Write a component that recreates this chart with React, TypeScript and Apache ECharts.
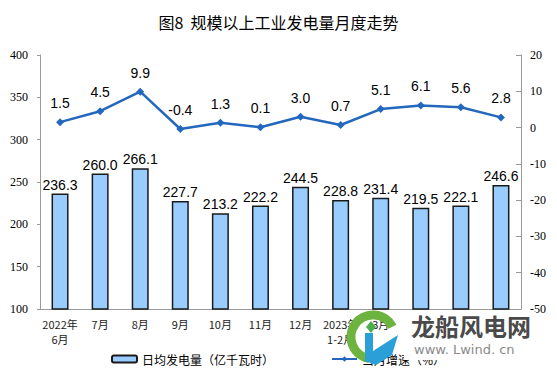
import React, { useEffect, useRef } from "react";
import * as echarts from "echarts";

const categories = ["2022年\n6月", "7月", "8月", "9月", "10月", "11月", "12月", "2023年\n1-2月", "3月", "4月", "5月", "6月"];
const dailyOutput = [236.3, 260.0, 266.1, 227.7, 213.2, 222.2, 244.5, 228.8, 231.4, 219.5, 222.1, 246.6];
const growthRate = [1.5, 4.5, 9.9, -0.4, 1.3, 0.1, 3.0, 0.7, 5.1, 6.1, 5.6, 2.8];
const barName = "日均发电量（亿千瓦时）";
const lineName = "当月增速（%）";
const titleText = "图8  规模以上工业发电量月度走势";

export default function App() {
  const ref = useRef<HTMLDivElement>(null);
  useEffect(() => {
    if (!ref.current) return;
    const chart = echarts.init(ref.current, undefined, { renderer: "svg" });
    const cjk = "'Noto Sans CJK SC', 'Liberation Sans', sans-serif";
    chart.setOption({
      animation: false,
      backgroundColor: "#ffffff",
      title: {
        text: titleText,
        left: "center",
        top: 9,
        textStyle: { fontSize: 16, fontWeight: "normal", color: "#000", fontFamily: cjk },
      },
      grid: { left: 40, right: 36, top: 55, bottom: 80 },
      legend: {
        left: 106,
        top: 348,
        itemGap: 57,
        itemWidth: 25,
        itemHeight: 7,
        textStyle: { fontSize: 12, color: "#000", fontFamily: cjk },
        data: [barName, lineName],
      },
      xAxis: {
        type: "category",
        data: categories,
        axisLine: { onZero: false, lineStyle: { color: "#9a9a9a" } },
        axisTick: { inside: true, length: 4, lineStyle: { color: "#9a9a9a" } },
        axisLabel: { fontSize: 11, color: "#222", fontFamily: cjk, margin: 7, lineHeight: 15, interval: 0 },
      },
      yAxis: [
        {
          type: "value",
          min: 100,
          max: 400,
          interval: 50,
          axisLine: { show: true, lineStyle: { color: "#9a9a9a" } },
          axisTick: { show: true, inside: false, length: 3, lineStyle: { color: "#9a9a9a" } },
          splitLine: { show: false },
          axisLabel: { fontSize: 12, color: "#000", fontFamily: "'Liberation Serif', serif", margin: 12 },
        },
        {
          type: "value",
          min: -50,
          max: 20,
          interval: 10,
          axisLine: { show: true, lineStyle: { color: "#9a9a9a" } },
          axisTick: { show: true, inside: true, length: 5, lineStyle: { color: "#9a9a9a" } },
          splitLine: { show: false },
          axisLabel: { fontSize: 12, color: "#000", fontFamily: "'Liberation Serif', serif", margin: 9 },
        },
      ],
      series: [
        {
          name: barName,
          type: "bar",
          data: dailyOutput,
          barWidth: 17,
          itemStyle: { color: "#99ccff", borderColor: "#1a1a1a", borderWidth: 1.5 },
          label: {
            show: true,
            position: "top",
            distance: 2,
            fontSize: 14,
            color: "#000",
            fontFamily: "'Liberation Sans', Arial, sans-serif",
            formatter: (p: any) => Number(p.value).toFixed(1),
          },
        },
        {
          name: lineName,
          type: "line",
          yAxisIndex: 1,
          data: growthRate,
          symbol: "diamond",
          symbolSize: 8,
          lineStyle: { color: "#2468be", width: 2.5 },
          itemStyle: { color: "#2468be" },
          label: {
            show: true,
            position: "top",
            distance: 8,
            fontSize: 14,
            color: "#000",
            fontFamily: "'Liberation Sans', Arial, sans-serif",
            formatter: (p: any) => Number(p.value).toFixed(1),
          },
        },
      ],
      graphic: [
        {
          type: "rect",
          z: 99,
          shape: { x: 404, y: 312, width: 132, height: 48 },
          style: { fill: "rgba(255,255,255,0.96)" },
        },
        {
          type: "arc",
          z: 100,
          shape: { cx: 373, cy: 337, r: 22, startAngle: 1.75, endAngle: 5.8, clockwise: true },
          style: { stroke: "#6cb33f", lineWidth: 9, fill: "none" },
        },
        {
          type: "polygon",
          z: 101,
          shape: { points: [[365, 333], [373, 333], [373, 351], [398, 335], [392, 355], [376, 365], [365, 361]] },
          style: { fill: "#2a9fd8" },
        },
        {
          type: "polygon",
          z: 101,
          shape: { points: [[371, 321], [376, 327], [371, 333], [366, 327]] },
          style: { fill: "#4caf50" },
        },
        {
          type: "text",
          z: 101,
          left: 411,
          top: 313,
          style: { text: "龙船风电网", fontSize: 24, fontWeight: "bold", fill: "#4a4a4a", fontFamily: cjk },
        },
        {
          type: "text",
          z: 101,
          left: 414,
          top: 343,
          style: { text: "www. Lwind. cn", fontSize: 13, fill: "#8a8a8a", fontFamily: "'DejaVu Sans', sans-serif" },
        },
      ],
    });
    return () => chart.dispose();
  }, []);
  return <div ref={ref} style={{ position: "fixed", left: 0, top: 0, width: 557, height: 389 }} />;
}
